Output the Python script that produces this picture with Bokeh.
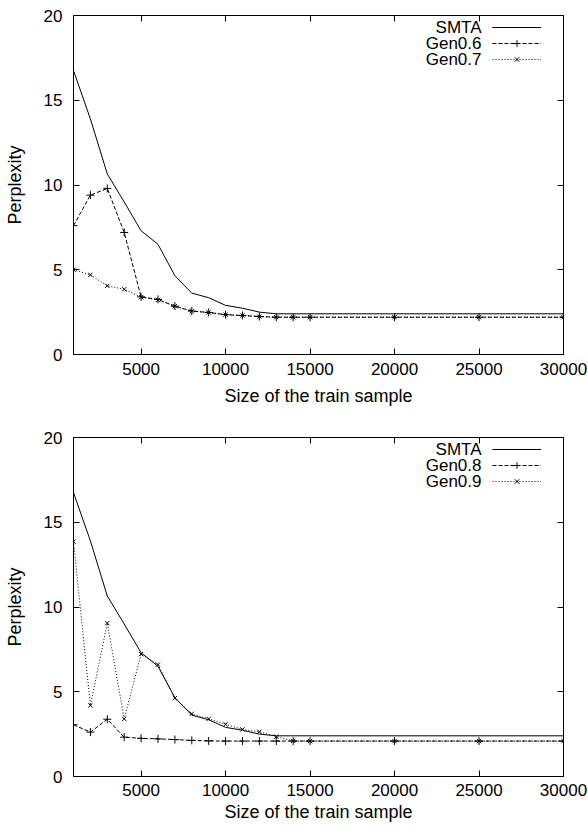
from bokeh.plotting import figure
from bokeh.models import (Range1d, FixedTicker, LinearAxis, Legend, LegendItem, Label)
from bokeh.layouts import column
from bokeh.embed import file_html
from bokeh.resources import INLINE

# ---- data ----
sizes = [1000, 2000, 3000, 4000, 5000, 6000, 7000, 8000, 9000, 10000,
         11000, 12000, 13000, 14000, 15000, 20000, 25000, 30000]
smta = [16.75, 13.9, 10.65, 9.0, 7.3, 6.5, 4.65, 3.62, 3.35, 2.9,
        2.73, 2.5, 2.4, 2.4, 2.4, 2.4, 2.4, 2.4]
gen06 = [7.6, 9.4, 9.8, 7.2, 3.4, 3.25, 2.85, 2.56, 2.48, 2.35,
         2.3, 2.24, 2.2, 2.2, 2.2, 2.2, 2.2, 2.2]
gen07 = [5.0, 4.7, 4.05, 3.85, 3.38, 3.22, 2.85, 2.56, 2.48, 2.35,
         2.3, 2.24, 2.2, 2.2, 2.2, 2.2, 2.2, 2.2]
gen08 = [3.05, 2.62, 3.38, 2.32, 2.25, 2.22, 2.18, 2.13, 2.1, 2.09,
         2.09, 2.09, 2.09, 2.09, 2.09, 2.09, 2.09, 2.09]
gen09 = [13.85, 4.2, 9.05, 3.4, 7.22, 6.6, 4.62, 3.7, 3.4, 3.08,
         2.78, 2.64, 2.35, 2.1, 2.09, 2.09, 2.09, 2.09]
x_ticks = [5000, 10000, 15000, 20000, 25000, 30000]
y_ticks = [0, 5, 10, 15, 20]
names_top = ["SMTA", "Gen0.6", "Gen0.7"]
names_bottom = ["SMTA", "Gen0.8", "Gen0.9"]

FONT = "Liberation Sans"
FS = "17px"
FS_LABEL = "18px"


def style_axis(ax, show_labels=True):
    ax.major_tick_in = 6
    ax.major_tick_out = 0
    ax.minor_tick_in = 0
    ax.minor_tick_out = 0
    ax.major_tick_line_color = "black"
    ax.axis_line_color = "black"
    ax.major_label_text_font = FONT
    if show_labels:
        ax.major_label_text_font_size = FS
        ax.major_label_text_color = "black"
    else:
        ax.major_label_text_font_size = "1px"
        ax.major_label_text_color = None
    ax.axis_label_text_font = FONT
    ax.axis_label_text_font_size = FS_LABEL
    ax.axis_label_text_font_style = "normal"
    ax.axis_label_text_color = "black"


def make_plot(series_a, series_b, names, bottom_border, tick_standoff, label_standoff):
    p = figure(output_backend="svg", toolbar_location=None,
               frame_width=490, frame_height=339,
               x_range=Range1d(1000, 30000), y_range=Range1d(0, 20),
               min_border_left=73, min_border_right=24,
               min_border_top=15, min_border_bottom=bottom_border)
    p.xgrid.visible = False
    p.ygrid.visible = False
    p.outline_line_color = "black"
    p.outline_line_width = 1
    p.background_fill_color = "white"
    p.border_fill_color = "white"

    p.xaxis.ticker = FixedTicker(ticks=x_ticks)
    p.yaxis.ticker = FixedTicker(ticks=y_ticks)
    p.xaxis.axis_label = "Size of the train sample"
    p.yaxis.axis_label = "Perplexity"
    style_axis(p.xaxis[0])
    style_axis(p.yaxis[0])
    p.xaxis.major_label_standoff = tick_standoff
    p.xaxis.axis_label_standoff = label_standoff
    p.yaxis.major_label_standoff = 11
    p.yaxis.axis_label_standoff = 16

    top_ax = LinearAxis(ticker=FixedTicker(ticks=x_ticks), major_label_standoff=0)
    right_ax = LinearAxis(ticker=FixedTicker(ticks=y_ticks), major_label_standoff=0)
    style_axis(top_ax, False)
    style_axis(right_ax, False)
    top_ax.axis_line_color = None
    right_ax.axis_line_color = None
    p.add_layout(top_ax, "above")
    p.add_layout(right_ax, "right")

    r0 = p.line(sizes, smta, line_color="black", line_width=1)
    ra = p.line(sizes, series_a, line_color="black", line_width=1, line_dash="4 2")
    sa = p.scatter(sizes, series_a, marker="cross", size=8, line_color="black",
                   line_width=1)
    rb = p.line(sizes, series_b, line_color="black", line_width=1, line_dash="1 2")
    sb = p.scatter(sizes, series_b, marker="x", size=6, line_color="black",
                   line_width=1)

    legend = Legend(items=[LegendItem(label=" ", renderers=[r0]),
                           LegendItem(label=" ", renderers=[ra, sa]),
                           LegendItem(label=" ", renderers=[rb, sb])],
                    location=(419, 287), padding=0, spacing=0, margin=0,
                    glyph_width=49, glyph_height=16, label_height=16,
                    label_width=0, label_standoff=0,
                    label_text_font_size="8px", label_text_color=None,
                    border_line_color=None, background_fill_alpha=0)
    p.add_layout(legend, "center")

    for i, name in enumerate(names):
        p.add_layout(Label(x=408, y=327 - 16 * i, x_units="screen", y_units="screen",
                           text=name, text_align="right", text_baseline="middle",
                           text_font=FONT, text_font_size=FS, text_color="black"))
    return p


p1 = make_plot(gen06, gen07, names_top, 68, 8, 8)
p2 = make_plot(gen08, gen09, names_bottom, 56, 7, 3)

layout = column(p1, p2, spacing=0)
open("out.html", "w").write(file_html(layout, INLINE))
